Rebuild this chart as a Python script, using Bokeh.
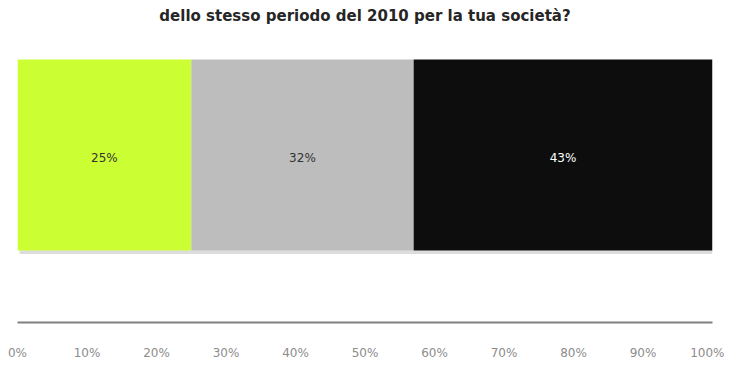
from bokeh.plotting import figure
from bokeh.models import Range1d, FixedTicker
from bokeh.embed import file_html
from bokeh.resources import INLINE
from bokeh.core.properties import value

# Data
categories = ["Migliore", "Uguale", "Peggiore"]
values = [25, 32, 43]
colors = ["#CCFF33", "#BDBDBD", "#0D0D0D"]
label_colors = ["#333333", "#333333", "#FFFFFF"]
tick_values = [0, 10, 20, 30, 40, 50, 60, 70, 80, 90, 100]
tick_labels = ["0%", "10%", "20%", "30%", "40%", "50%", "60%", "70%", "80%", "90%", "100%"]
title_text = "dello stesso periodo del 2010 per la tua società?"

lefts, rights, centers = [], [], []
acc = 0
for v in values:
    lefts.append(acc)
    rights.append(acc + v)
    centers.append(acc + v / 2)
    acc += v

p = figure(width=724, height=373, output_backend="svg", toolbar_location=None,
           x_range=Range1d(0, 100), y_range=Range1d(0, 1),
           min_border_left=17, min_border_right=12, min_border_top=0, min_border_bottom=51)
p.outline_line_color = None
p.background_fill_color = "white"
p.border_fill_color = "white"
p.xgrid.grid_line_color = None
p.ygrid.grid_line_color = None
p.yaxis.visible = False

# soft shadow under the bar
p.quad(left=[0.3], right=[acc], bottom=[0.213], top=[0.224], fill_color="#dcdcdc", line_color=None)
p.quad(left=lefts, right=rights, bottom=0.2236, top=0.8168, fill_color=colors, line_color=None)
p.text(x=centers, y=[0.512] * len(values), text=[f"{v}%" for v in values],
       text_color=label_colors, text_align="center", text_baseline="middle",
       text_font=value("DejaVu Sans"), text_font_size="12px")

# title
p.text(x=[50], y=[0.953], text=[title_text], text_align="center", text_baseline="middle",
       text_font=value("DejaVu Sans"), text_font_style="bold", text_font_size="15px",
       text_color="#262626")

ax = p.xaxis[0]
ax.ticker = FixedTicker(ticks=tick_values)
ax.major_label_overrides = {t: l for t, l in zip(tick_values, tick_labels)}
ax.axis_line_color = "#808080"
ax.axis_line_width = 2
ax.major_tick_line_color = None
ax.minor_tick_line_color = None
ax.major_label_standoff = 17
ax.major_label_text_color = "#8c8c8c"
ax.major_label_text_font = "DejaVu Sans"
ax.major_label_text_font_size = "12px"

open("out.html", "w").write(file_html(p, INLINE))
